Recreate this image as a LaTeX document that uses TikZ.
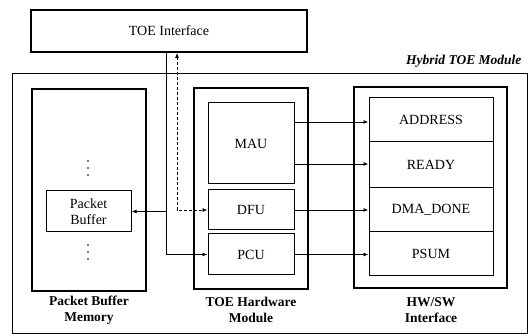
\documentclass[tikz,border=0pt]{standalone}
\usepackage{fontspec}
\setmainfont{Liberation Serif}
\usetikzlibrary{arrows.meta}
\begin{document}
\begin{tikzpicture}[x=1pt,y=-1pt,
  font=\fontsize{14}{16}\selectfont,
  thickbox/.style={draw, line width=1.8pt, inner sep=0pt},
  thinbox/.style={draw, line width=1pt, inner sep=0pt, align=center},
  outerbox/.style={draw, line width=0.9pt, inner sep=0pt},
  lbl/.style={font=\fontsize{13.5}{16}\selectfont\bfseries, align=center},
  conn/.style={line width=0.9pt, -{Latex[length=5pt,width=4pt]}},
  dotmark/.style={fill, circle, inner sep=0pt, minimum size=1.6pt}]
\useasboundingbox (0,0) rectangle (528,336);
% TOE Interface
\node[thickbox, minimum width=276pt, minimum height=42pt] (toei) at (169,31) {TOE Interface};
% outer module
\node[outerbox, minimum width=515pt, minimum height=260pt] (outer) at (269.5,203) {};
\node[anchor=east, font=\fontsize{13.5}{16}\selectfont\bfseries\itshape] (hyb) at (525,61) {Hybrid TOE Module};
% Packet Buffer Memory
\node[thickbox, minimum width=114pt, minimum height=202pt] (pbm) at (89,190) {};
\node[thinbox, minimum width=85pt, minimum height=41pt] (pb) at (88.5,211.5) {Packet\\Buffer};
\foreach \yy [count=\i] in {161,168,175,245,252,259}
  \node[dotmark] (dot\i) at (88,\yy) {};
\node[lbl] (pbml) at (89,310) {Packet Buffer\\Memory};
% TOE Hardware Module
\node[thickbox, minimum width=114pt, minimum height=201pt] (hwm) at (251,188.5) {};
\node[thinbox, minimum width=86pt, minimum height=81pt] (mau) at (251,143.5) {MAU};
\node[thinbox, minimum width=86pt, minimum height=40pt] (dfu) at (251,210) {DFU};
\node[thinbox, minimum width=86pt, minimum height=41pt] (pcu) at (251,254.5) {PCU};
\node[lbl] (hwml) at (251,310) {TOE Hardware\\Module};
% HW/SW Interface
\node[thickbox, minimum width=153pt, minimum height=201pt] (hsw) at (430.5,187.5) {};
\node[thinbox, minimum width=124pt, minimum height=44pt] (addr) at (431,120) {ADDRESS};
\node[thinbox, minimum width=124pt, minimum height=46pt] (ready) at (431,165) {READY};
\node[thinbox, minimum width=124pt, minimum height=44pt] (dma) at (431,210) {DMA\_DONE};
\node[thinbox, minimum width=124pt, minimum height=44pt] (psum) at (431,254) {PSUM};
\node[lbl] (hswl) at (431,310) {HW/SW\\Interface};
% connectors MAU/DFU/PCU -> HW/SW
\draw[conn] (mau.east |- 0,122) -- (addr.west |- 0,122);
\draw[conn] (mau.east |- 0,164) -- (ready.west |- 0,164);
\draw[conn] (dfu.east) -- (dma.west |- dfu.east);
\draw[conn] (pcu.east) -- (psum.west |- pcu.east);
% TOE Interface connections
\coordinate (s1) at (166,52);
\coordinate (s2) at (166,254.5);
\coordinate (s3) at (166,211.5);
\draw[conn] (toei.south -| s1) -- (s2) -- (pcu.west);
\draw[conn] (s3) -- (pb.east);
\coordinate (d1) at (177,210);
\draw[line width=0.9pt, dashed, dash pattern=on 3pt off 2pt, {Latex[length=5pt,width=4pt]}-{Latex[length=5pt,width=4pt]}] (toei.south -| d1) -- (d1) -- (dfu.west);
\end{tikzpicture}
\end{document}
